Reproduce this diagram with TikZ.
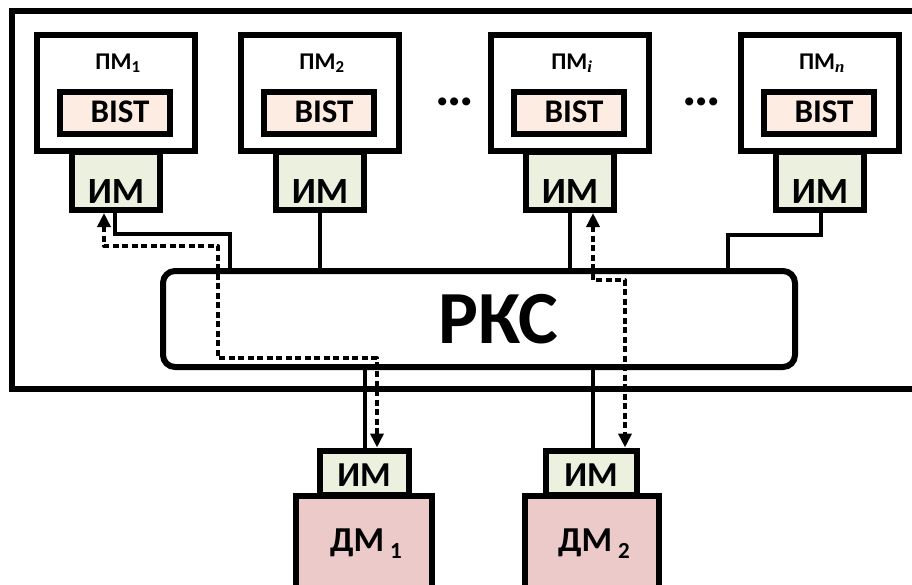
\documentclass[tikz,border=0pt]{standalone}
\usepackage{fontspec}
\setmainfont{Carlito}
\newfontfamily\serifit{Liberation Serif}
\usetikzlibrary{arrows.meta}
\definecolor{bistc}{HTML}{FCECE2}
\definecolor{imc}{HTML}{EBF0DF}
\definecolor{dmc}{HTML}{ECCACA}
\tikzset{
  frame/.style={line width=6.5pt},
  pmbox/.style={draw, fill=white, line width=6pt, minimum width=158pt, minimum height=116pt, inner sep=0pt},
  bistbox/.style={draw, fill=bistc, line width=6pt, minimum width=110pt, minimum height=42pt, inner sep=0pt},
  imbox/.style={draw, fill=imc, line width=6pt, minimum width=88pt, minimum height=58pt, inner sep=0pt},
  rksbox/.style={draw, fill=white, line width=6pt, rounded corners=12pt, minimum width=632pt, minimum height=96pt, inner sep=0pt},
  dmimbox/.style={draw, fill=imc, line width=6pt, minimum height=44pt, inner sep=0pt},
  dmbox/.style={draw, fill=dmc, line width=6pt, minimum height=144pt, inner sep=0pt},
  lbl/.style={anchor=base, inner sep=0pt, font=\bfseries},
  conn/.style={line width=4pt},
  dconn/.style={line width=4pt, dash pattern=on 6pt off 3.5pt, line join=round,
    {Triangle[length=14pt,width=13pt]}-{Triangle[length=14pt,width=13pt]}},
}
\begin{document}
\begin{tikzpicture}[x=1pt,y=-1pt]
\useasboundingbox (0,0) rectangle (912,584);
\clip (0,0) rectangle (912,584);
\fill[white] (0,0) rectangle (912,584);
% frame
\draw[frame] (930,389) -- (12,389) -- (12,11) -- (930,11);
% RKS
\node[rksbox] (rks) at (479,319) {};
\node[lbl, font=\fontsize{75}{75}\selectfont\bfseries] (rkst) at (498,343) {РКС};
% PM boxes
\foreach \n/\x in {1/116, 2/320, i/570, n/820}{
  \node[pmbox] (pm\n) at (\x,93) {};
  \node[bistbox] (bist\n) at ([xshift=-1pt]\x,113) {};
  \node[lbl, font=\fontsize{33}{33}\selectfont\bfseries] (bistt\n) at (\x+4,122.5) {BIST};
  \node[imbox] (im\n) at (\x,181) {};
  \node[lbl, font=\fontsize{37}{37}\selectfont\bfseries] (imt\n) at (\x,203) {ИМ};
}
\node[lbl, font=\fontsize{24}{24}\selectfont\bfseries] (pmt1) at (118,69) {ПМ\textsubscript{1}};
\node[lbl, font=\fontsize{24}{24}\selectfont\bfseries] (pmt2) at (322,69) {ПМ\textsubscript{2}};
\node[lbl, font=\fontsize{24}{24}\selectfont\bfseries] (pmti) at (572,69) {ПМ\textsubscript{\serifit\itshape i}};
\node[lbl, font=\fontsize{24}{24}\selectfont\bfseries] (pmtn) at (822,69) {ПМ\textsubscript{\serifit\itshape n}};
% dots
\node[lbl, font=\fontsize{54}{54}\selectfont\bfseries] (dots1) at (455,105) {…};
\node[lbl, font=\fontsize{54}{54}\selectfont\bfseries] (dots2) at (702,105) {…};
% DM
\node[dmbox, minimum width=136pt] (dm1) at (364,567.5) {};
\node[dmimbox, minimum width=89pt] (dmim1) at (364.5,472.5) {};
\node[lbl, font=\fontsize{35}{35}\selectfont\bfseries] (dmimt1) at (364,486) {ИМ};
\node[lbl, font=\fontsize{35}{35}\selectfont\bfseries] (dmt1) at (366,551) {ДМ\,\raisebox{-0.2em}{\fontsize{23}{23}\selectfont 1}};
\node[dmbox, minimum width=134pt] (dm2) at (592,567.5) {};
\node[dmimbox, minimum width=91pt] (dmim2) at (591.5,472.5) {};
\node[lbl, font=\fontsize{35}{35}\selectfont\bfseries] (dmimt2) at (591,486) {ИМ};
\node[lbl, font=\fontsize{35}{35}\selectfont\bfseries] (dmt2) at (594,551) {ДМ\,\raisebox{-0.2em}{\fontsize{23}{23}\selectfont 2}};
% solid connectors
\coordinate (c1) at (230,234);
\draw[conn] ([xshift=-1pt]im1.south) |- (c1) -- (c1 |- rks.north);
\draw[conn] (im2.south) -- (im2.south |- rks.north);
\draw[conn] (imi.south) -- (imi.south |- rks.north);
\coordinate (cn) at (728,235);
\draw[conn] ([xshift=1pt]imn.south) |- (cn) -- (cn |- rks.north);
\draw[conn] (rks.south -| dmim1.north) -- (dmim1.north);
\draw[conn] ([xshift=1.5pt]rks.south -| dmim2.north) -- ([xshift=1.5pt]dmim2.north);
% dashed test paths
\coordinate (d1a) at (104,246);
\coordinate (d1b) at (218,358);
\coordinate (d1c) at (377,358);
\draw[dconn] ([xshift=-12pt]im1.south) -- (d1a) -- (d1a -| d1b) -- (d1b) -- (d1c) -- (d1c |- dmim1.north);
\coordinate (dia) at (593,280);
\coordinate (dib) at (625,280);
\draw[dconn] ([xshift=23pt]imi.south) -- (dia) -- (dib) -- (dib |- dmim2.north);
\end{tikzpicture}
\end{document}
